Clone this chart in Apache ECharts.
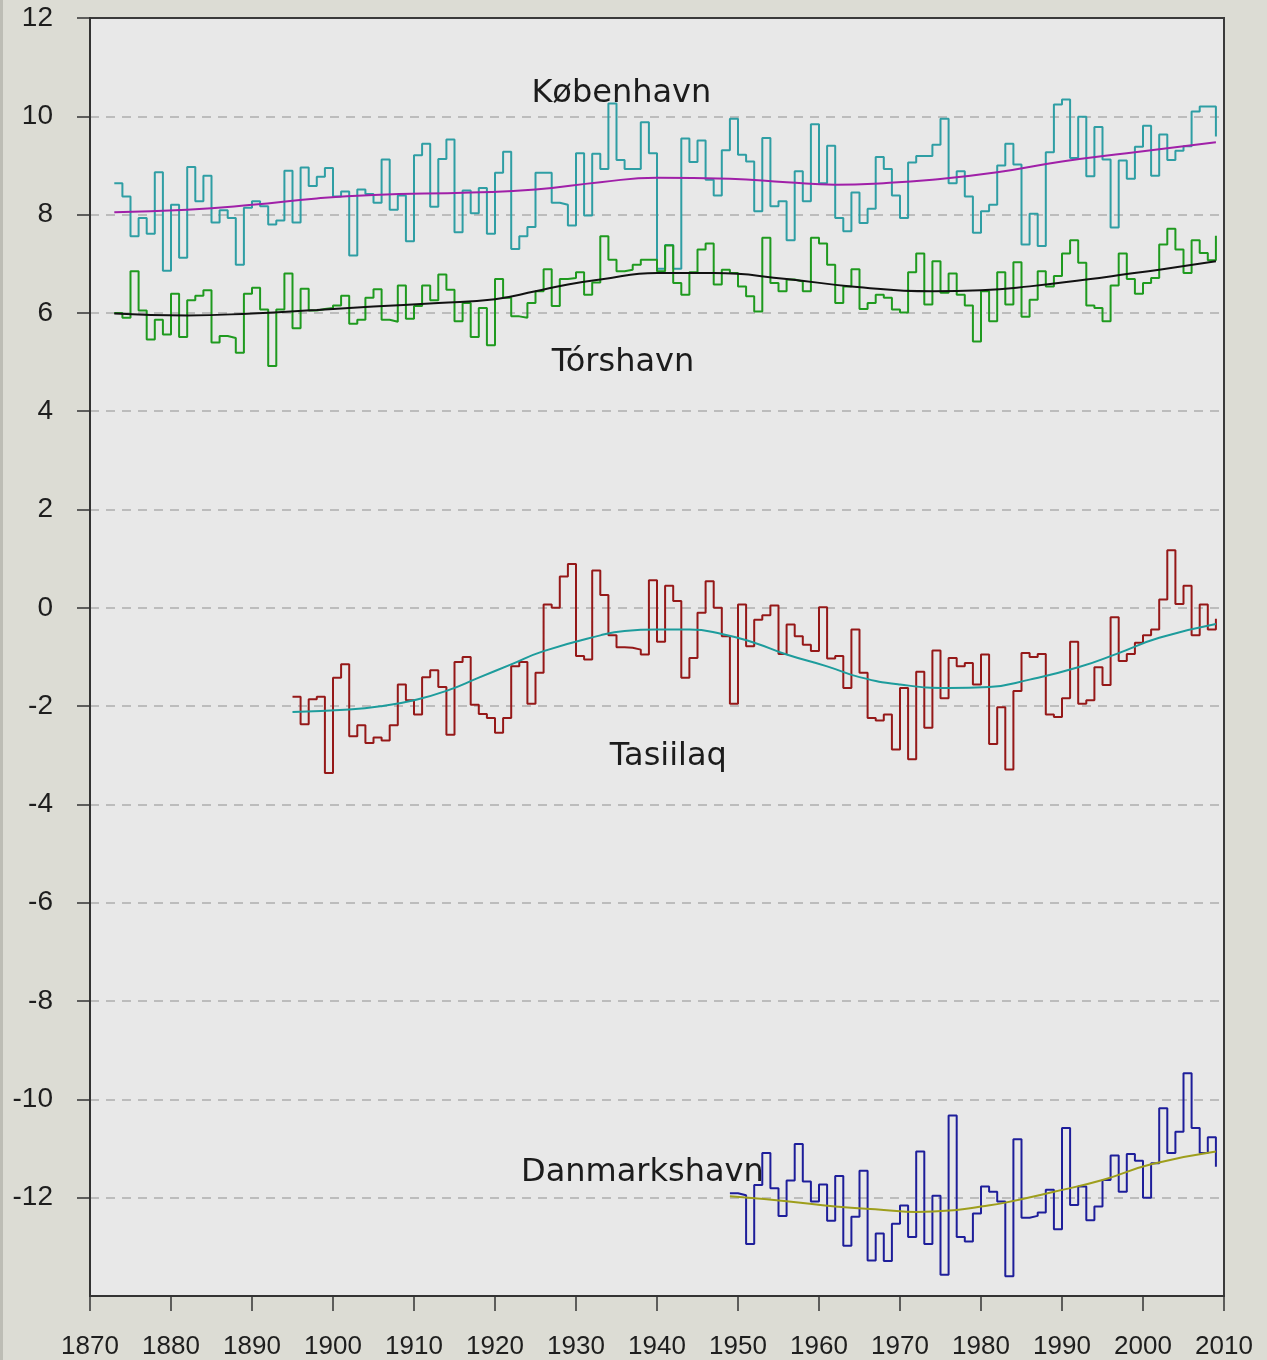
<!DOCTYPE html>
<html>
<head>
<meta charset="utf-8">
<script src="https://cdn.jsdelivr.net/npm/echarts/dist/echarts.min.js"></script>
<style>
  html, body { margin: 0; padding: 0; background: #dcdcd4; }
  #chart { width: 1267px; height: 1360px; }
</style>
</head>
<body>
<div id="chart"></div>
<script>
// Annual mean temperatures (°C), one value per year from the start year on
const kbhStart = 1873;
const kbhValues = [
  8.64, 8.37, 7.56, 7.93, 7.61, 8.86, 6.86, 8.20, 7.12, 8.97,
  8.27, 8.79, 7.84, 8.09, 7.93, 6.98, 8.14, 8.27, 8.17, 7.80,
  7.88, 8.89, 7.84, 8.96, 8.58, 8.77, 8.95, 8.37, 8.47, 7.17,
  8.51, 8.42, 8.24, 9.12, 8.10, 8.39, 7.46, 9.21, 9.44, 8.16,
  9.13, 9.53, 7.64, 8.49, 8.03, 8.54, 7.61, 8.85, 9.28, 7.30,
  7.56, 7.75, 8.85, 8.85, 8.24, 8.20, 7.78, 9.25, 7.98, 9.24,
  8.93, 10.26, 9.11, 8.93, 8.93, 9.88, 9.25, 6.90, 7.38, 6.90,
  9.55, 9.07, 9.51, 8.71, 8.39, 9.31, 9.95, 9.22, 9.08, 8.07,
  9.56, 8.17, 8.27, 7.48, 8.88, 8.27, 9.84, 8.64, 9.40, 7.93,
  7.66, 8.45, 7.83, 8.12, 9.17, 8.93, 8.39, 7.93, 9.06, 9.19,
  9.19, 9.42, 9.95, 8.64, 8.88, 8.37, 7.63, 8.07, 8.20, 9.00,
  9.44, 9.02, 7.39, 8.02, 7.36, 9.27, 10.24, 10.34, 9.15, 9.99,
  8.78, 9.78, 9.12, 7.74, 9.10, 8.73, 9.38, 9.81, 8.79, 9.63,
  9.11, 9.30, 9.39, 10.10, 10.20, 10.20, 9.59
];

const torStart = 1873;
const torValues = [
  6.00, 5.90, 6.85, 6.05, 5.46, 5.86, 5.56, 6.39, 5.51, 6.26,
  6.35, 6.46, 5.40, 5.53, 5.49, 5.19, 6.39, 6.51, 6.07, 4.92,
  6.07, 6.80, 5.69, 6.49, 6.05, 6.08, 6.10, 6.15, 6.35, 5.78,
  5.86, 6.31, 6.48, 5.86, 5.82, 6.56, 5.88, 6.14, 6.56, 6.26,
  6.78, 6.47, 5.83, 6.20, 5.51, 6.10, 5.34, 6.69, 6.31, 5.93,
  5.90, 6.20, 6.44, 6.89, 6.14, 6.69, 6.71, 6.83, 6.37, 6.62,
  7.56, 7.08, 6.85, 6.88, 6.98, 7.08, 7.08, 6.85, 7.37, 6.61,
  6.37, 6.83, 7.29, 7.41, 6.58, 6.88, 6.81, 6.54, 6.34, 6.03,
  7.53, 6.61, 6.44, 6.68, 6.64, 6.44, 7.53, 7.41, 6.98, 6.20,
  6.54, 6.89, 6.08, 6.20, 6.37, 6.31, 6.07, 6.01, 6.83, 7.21,
  6.17, 7.05, 6.41, 6.80, 6.37, 6.15, 5.42, 6.44, 5.83, 6.83,
  6.17, 7.03, 5.92, 6.27, 6.85, 6.54, 6.75, 7.21, 7.48, 7.02,
  6.15, 6.10, 5.83, 6.56, 7.21, 6.69, 6.39, 6.61, 6.71, 7.39,
  7.71, 7.29, 6.81, 7.48, 7.22, 7.07, 7.57
];

const tasStart = 1895;
const tasValues = [
  -1.81, -2.37, -1.86, -1.81, -3.36, -1.42, -1.15, -2.61, -2.39, -2.75,
  -2.64, -2.70, -2.39, -1.56, -1.88, -2.17, -1.41, -1.27, -1.61, -2.58,
  -1.10, -1.00, -1.97, -2.16, -2.24, -2.54, -2.24, -1.19, -1.10, -1.95,
  -1.32, 0.07, 0.00, 0.64, 0.89, -0.98, -1.05, 0.76, 0.26, -0.56,
  -0.80, -0.81, -0.85, -0.95, 0.56, -0.69, 0.45, 0.14, -1.42, -1.02,
  -0.10, 0.54, 0.00, -0.58, -1.95, 0.07, -0.78, -0.24, -0.15, 0.05,
  -0.94, -0.34, -0.58, -0.75, -0.88, 0.01, -1.03, -0.98, -1.63, -0.44,
  -1.32, -2.24, -2.29, -2.17, -2.88, -1.63, -3.08, -1.30, -2.44, -0.87,
  -1.84, -1.02, -1.19, -1.12, -1.56, -0.95, -2.77, -2.02, -3.29, -1.69,
  -0.92, -1.00, -0.94, -2.17, -2.22, -1.84, -0.69, -1.95, -1.88, -1.21,
  -1.57, -0.19, -1.08, -0.94, -0.71, -0.56, -0.44, 0.17, 1.17, 0.08,
  0.45, -0.56, 0.07, -0.44, -0.22
];

const dmhStart = 1949;
const dmhValues = [
  -11.91, -11.95, -12.94, -11.74, -11.09, -11.81, -12.37, -11.65, -10.91, -11.67,
  -12.08, -11.73, -12.47, -11.56, -12.98, -12.39, -11.45, -13.28, -12.73, -13.29,
  -12.53, -12.16, -12.80, -11.06, -12.94, -11.96, -13.57, -10.33, -12.80, -12.89,
  -12.32, -11.77, -11.88, -12.08, -13.60, -10.81, -12.41, -12.37, -12.30, -11.84,
  -12.64, -10.58, -12.15, -11.77, -12.46, -12.18, -11.64, -11.14, -11.88, -11.11,
  -11.25, -12.00, -11.30, -10.18, -11.09, -10.66, -9.47, -10.58, -11.09, -10.77,
  -11.37
];

// Smoothed trend curves, sampled along each record
const kbhTrendYears  = [1873, 1882, 1890, 1898, 1905, 1917, 1925, 1933, 1940, 1949, 1956, 1962, 1968, 1974, 1982, 1990, 1998, 2009];
const kbhTrendValues = [8.05, 8.10, 8.20, 8.33, 8.40, 8.45, 8.51, 8.66, 8.75, 8.73, 8.66, 8.61, 8.64, 8.71, 8.86, 9.08, 9.25, 9.47];

const torTrendYears  = [1873, 1882, 1890, 1898, 1905, 1913, 1920, 1925, 1929, 1933, 1940, 1947, 1956, 1964, 1974, 1980, 1986, 1993, 1998, 2002, 2009];
const torTrendValues = [5.99, 5.95, 5.99, 6.06, 6.13, 6.20, 6.28, 6.44, 6.58, 6.68, 6.81, 6.81, 6.69, 6.54, 6.44, 6.46, 6.54, 6.68, 6.79, 6.88, 7.05];

const tasTrendYears  = [1895, 1902, 1906, 1910, 1914, 1918, 1922, 1926, 1933, 1936, 1940, 1944, 1948, 1952, 1956, 1961, 1965, 1970, 1976, 1981, 1986, 1992, 1997, 2002, 2009];
const tasTrendValues = [-2.12, -2.07, -2.00, -1.88, -1.69, -1.42, -1.15, -0.88, -0.56, -0.47, -0.44, -0.44, -0.53, -0.71, -0.95, -1.19, -1.41, -1.56, -1.63, -1.61, -1.46, -1.21, -0.92, -0.61, -0.33];

const dmhTrendYears  = [1949, 1956, 1962, 1968, 1972, 1977, 1980, 1983, 1989, 1995, 2001, 2009];
const dmhTrendValues = [-11.97, -12.07, -12.18, -12.25, -12.29, -12.25, -12.18, -12.10, -11.88, -11.64, -11.32, -11.06];

// Station names and the [year, °C] spot each is centred on
const stationNames  = ['København', 'Tórshavn', 'Tasiilaq', 'Danmarkshavn'];
const stationAnchor = [[1935.6, 10.47], [1935.8, 4.98], [1941.4, -3.03], [1938.2, -11.49]];

const yTicks = { min: -14, max: 12, step: 2 };
const xTicks = { min: 1870, max: 2010, step: 10 };

function annual(start, values) {
  return values.map((v, i) => [start + i, v]);
}
function pairs(xs, ys) {
  return xs.map((x, i) => [x, ys[i]]);
}

function stepSeries(name, start, values, color) {
  return {
    name, type: 'line', step: 'end', showSymbol: false, symbol: 'none',
    data: annual(start, values),
    lineStyle: { color, width: 2 }, z: 2
  };
}
function trendSeries(name, xs, ys, color) {
  return {
    name, type: 'line', smooth: 0.5, showSymbol: false, symbol: 'none',
    data: pairs(xs, ys),
    lineStyle: { color, width: 2 }, z: 3
  };
}

const chart = echarts.init(document.getElementById('chart'), null, { renderer: 'canvas' });

const option = {
  animation: false,
  backgroundColor: '#dcdcd4',
  grid: {
    left: 90, top: 18, width: 1134, height: 1283,
    show: true, backgroundColor: '#e8e8e8', borderColor: '#3a3a3a', borderWidth: 2
  },
  xAxis: {
    type: 'value', min: xTicks.min, max: xTicks.max, interval: xTicks.step,
    axisLine: { show: true, onZero: false, lineStyle: { color: '#333', width: 2 } },
    axisTick: { show: true, length: 15, lineStyle: { color: '#333', width: 1.5 } },
    axisLabel: { color: '#1e1e1e', fontSize: 26, fontFamily: 'Liberation Sans, Arial, sans-serif', margin: 38, formatter: v => String(v) },
    splitLine: { show: false }
  },
  yAxis: {
    type: 'value', min: yTicks.min, max: yTicks.max, interval: yTicks.step,
    axisLine: { show: true, onZero: false, lineStyle: { color: '#333', width: 2 } },
    axisTick: { show: true, length: 13, lineStyle: { color: '#333', width: 1.5 } },
    axisLabel: {
      color: '#1e1e1e', fontSize: 28, fontFamily: 'Liberation Sans, Arial, sans-serif', margin: 37,
      showMinLabel: false, formatter: v => (v === yTicks.min ? '' : String(v))
    },
    splitLine: {
      show: true, showMinLine: false, showMaxLine: false,
      lineStyle: { color: '#adadad', width: 1.5, type: [9, 7] }
    }
  },
  series: [
    stepSeries('København', kbhStart, kbhValues, '#2f9ea4'),
    stepSeries('Tórshavn', torStart, torValues, '#1f9a1f'),
    stepSeries('Tasiilaq', tasStart, tasValues, '#951818'),
    stepSeries('Danmarkshavn', dmhStart, dmhValues, '#1e1e9a'),
    trendSeries('København trend', kbhTrendYears, kbhTrendValues, '#a020a8'),
    trendSeries('Tórshavn trend', torTrendYears, torTrendValues, '#111111'),
    trendSeries('Tasiilaq trend', tasTrendYears, tasTrendValues, '#1d9c9c'),
    trendSeries('Danmarkshavn trend', dmhTrendYears, dmhTrendValues, '#9e9e1c')
  ]
};
chart.setOption(option);

// Station name labels placed at their data-space anchors, plus the thin left edge band
const labels = stationNames.map((name, i) => {
  const p = chart.convertToPixel({ gridIndex: 0 }, stationAnchor[i]);
  return {
    type: 'text', x: p[0], y: p[1], z: 10,
    style: {
      text: name, fill: '#1c1c1c', font: '32px "DejaVu Sans", Verdana, sans-serif',
      textAlign: 'center', textVerticalAlign: 'middle'
    }
  };
});
labels.push({
  type: 'rect', shape: { x: 0, y: 0, width: 3, height: 1360 }, z: 1,
  style: { fill: '#bdbdb5' }, silent: true
});
chart.setOption({ graphic: labels });
</script>
</body>
</html>
